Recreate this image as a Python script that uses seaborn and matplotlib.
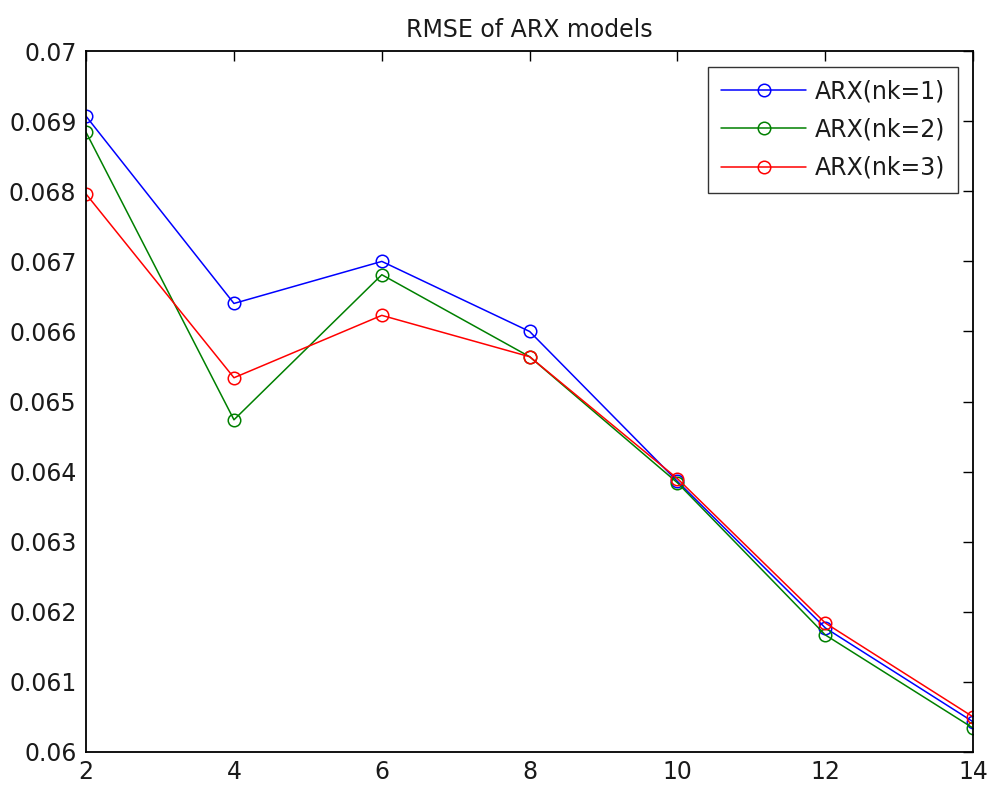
import matplotlib
matplotlib.use("Agg")
import matplotlib.pyplot as plt
import seaborn as sns
import pandas as pd

orders = [2, 4, 6, 8, 10, 12, 14]
rmse_nk1 = [0.06907, 0.06640, 0.06700, 0.06600, 0.06386, 0.06177, 0.06043]
rmse_nk2 = [0.06884, 0.06474, 0.06681, 0.06564, 0.06384, 0.06167, 0.06034]
rmse_nk3 = [0.06796, 0.06534, 0.06623, 0.06564, 0.06390, 0.06184, 0.06050]
labels = ["ARX(nk=1)", "ARX(nk=2)", "ARX(nk=3)"]
colors = ["#0000ff", "#008000", "#ff0000"]
ytick_vals = [0.06, 0.061, 0.062, 0.063, 0.064, 0.065,
              0.066, 0.067, 0.068, 0.069, 0.07]
ytick_labels = ["0.06", "0.061", "0.062", "0.063", "0.064", "0.065",
                "0.066", "0.067", "0.068", "0.069", "0.07"]

df = pd.concat([
    pd.DataFrame({"order": orders, "rmse": vals, "model": lab})
    for vals, lab in zip([rmse_nk1, rmse_nk2, rmse_nk3], labels)
])

sns.set_style("white")
plt.rcParams["font.family"] = ["DejaVu Sans"]
txt_color = "#1a1a1a"

fig = plt.figure(figsize=(9.9, 7.87), dpi=100)
ax = fig.add_axes([0.087, 0.0445, 0.896, 0.8905])

sns.lineplot(data=df, x="order", y="rmse", hue="model", palette=colors,
             marker="o", markersize=9, markerfacecolor="none",
             markeredgewidth=1.1, linewidth=1.1, ax=ax)
for line, c in zip(ax.lines, colors):
    line.set_markeredgecolor(c)

ax.set_xlim(2, 14)
ax.set_ylim(0.06, 0.07)
ax.set_xticks(orders)
ax.set_yticks(ytick_vals)
ax.set_yticklabels(ytick_labels)
ax.tick_params(direction="in", length=7, width=1, labelsize=17,
               top=True, right=True, colors="black",
               labelcolor=txt_color, pad=6)
ax.tick_params(axis="y", pad=7)
for s in ax.spines.values():
    s.set_color("black")
    s.set_linewidth(1.3)
ax.set_xlabel("")
ax.set_ylabel("")
ax.set_title("RMSE of ARX models", fontsize=17, pad=10, color=txt_color)

leg = ax.legend(loc="upper right", fontsize=17, handlelength=3.6,
                handletextpad=0.35, frameon=True, fancybox=False,
                borderaxespad=0.65, labelspacing=0.6, borderpad=0.55)
leg.get_frame().set_edgecolor("black")
leg.get_frame().set_linewidth(1.0)
for t in leg.get_texts():
    t.set_color(txt_color)
for h, c in zip(leg.legend_handles, colors):
    h.set_markerfacecolor("none")
    h.set_markeredgecolor(c)

fig.savefig("out.png", dpi=100)
